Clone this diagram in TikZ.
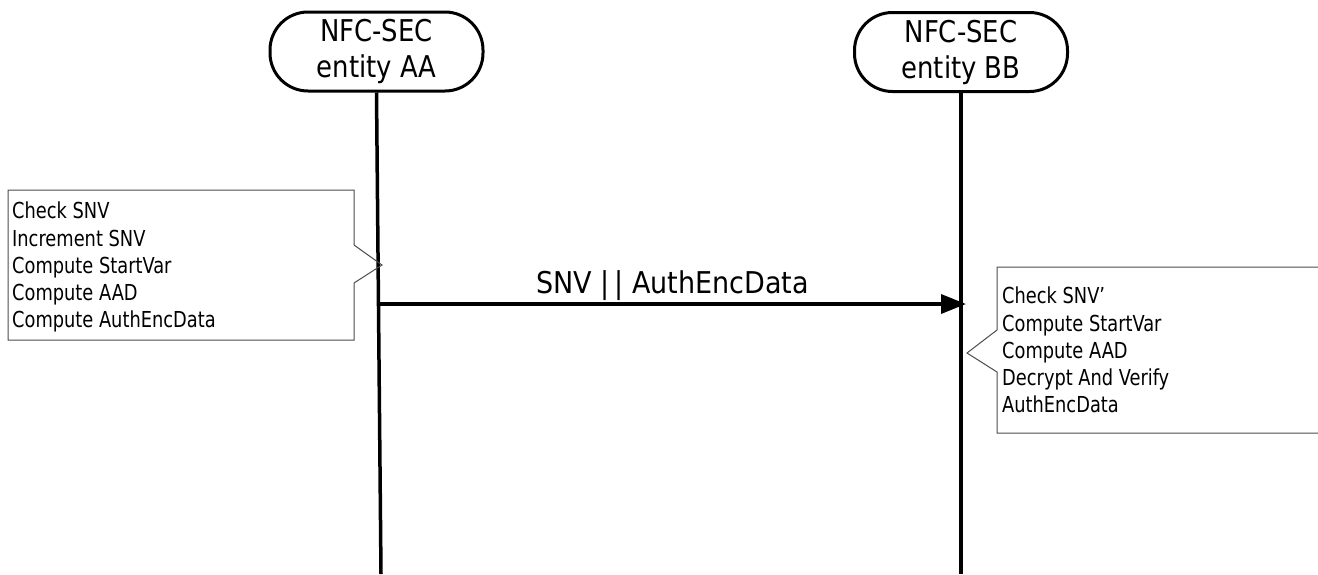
\documentclass[tikz,border=0pt]{standalone}
\usepackage{fontspec}
\setmainfont[FakeStretch=0.9]{DejaVu Sans Condensed}
\newfontfamily\hdrfont[FakeStretch=0.96]{DejaVu Sans Condensed}
\newfontfamily\lblfont{DejaVu Sans Condensed}
\usetikzlibrary{arrows.meta}
\begin{document}
\begin{tikzpicture}[x=1pt,y=-1pt,
  hdr/.style={draw, line width=3pt, rounded corners=38pt, minimum width=213pt, minimum height=79pt, inner sep=0pt, align=center, font=\hdrfont\fontsize{30}{36}\selectfont},
  life/.style={line width=3.5pt},
  msg/.style={line width=3.5pt, -{Triangle[length=25pt,width=19pt]}},
  callout/.style={draw=black!70, line width=1pt},
  note/.style={anchor=north west, inner sep=0pt, align=left, font=\fontsize{22}{27.2}\selectfont},
  lbl/.style={anchor=base, inner sep=0pt, font=\lblfont\fontsize{30}{36}\selectfont}]
\useasboundingbox (0,0) rectangle (1318,574);
% headers
\node[hdr] (a) at (376.5,51.5) {NFC-SEC\\entity AA};
\node[hdr] (b) at (961,52) {NFC-SEC\\entity BB};
% lifelines
\coordinate (aend) at (381,574);
\coordinate (bend) at (961,574);
\draw[life] (a.south) -- (aend);
\draw[life] (b.south) -- (bend);
% left callout
\draw[callout] (354,245) -- (354,190) -- (8,190) -- (8,340) -- (354,340) -- (354,283) -- (382,265) -- cycle;
\node[note] (na) at (12,202) {Check SNV\\Increment SNV\\Compute StartVar\\Compute AAD\\Compute AuthEncData};
% right callout
\draw[callout] (1318,267) -- (997,267) -- (997,330) -- (967,353) -- (997,372) -- (997,433) -- (1318,433);
\node[note] (nb) at (1002,287) {Check SNV’\\Compute StartVar\\Compute AAD\\Decrypt And Verify\\AuthEncData};
% message
\coordinate (m1) at (378,304);
\coordinate (m2) at (966,304);
\draw[msg] (m1) -- (m2);
\node[lbl] (ml) at (672.5,293) {SNV |\kern5pt| AuthEncData};
\end{tikzpicture}
\end{document}
